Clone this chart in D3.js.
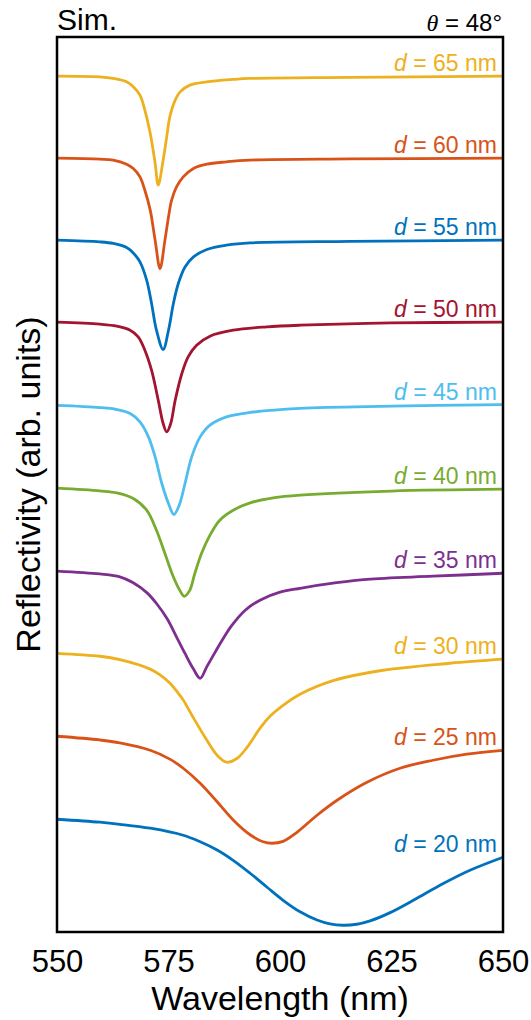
<!DOCTYPE html>
<html><head><meta charset="utf-8">
<script src="https://cdn.jsdelivr.net/npm/d3@7"></script>
<style>body{margin:0;background:#fff} svg{display:block}</style>
</head><body>
<svg id="c" width="531" height="1020"></svg>
<script>
const thicknesses = [20,25,30,35,40,45,50,55,60,65];
const offsets = [0,1,2,3,4,5,6,7,8,9];
const colors = ["#0072BD","#D95319","#EDB120","#7E2F8E","#77AC30","#4DBEEE","#A2142F","#0072BD","#D95319","#EDB120"];
const xTicks = [550,575,600,625,650];

const wl20 = [550,559.6,564.1,570.9,578.3,582.1,585.9,589.5,593.3,597.1,600.7,604.5,608.3,611.2,614.1,617.2,620.2,624.7,630.7,636.5,642.6,650];
const r20  = [1.318,1.282,1.257,1.209,1.124,1.045,0.945,0.82,0.663,0.493,0.335,0.195,0.095,0.048,0.032,0.044,0.085,0.185,0.359,0.535,0.699,0.857];
const wl25 = [550,559.6,564.1,570.9,575.4,578.3,582.1,585.9,589.5,593.3,596.2,598.2,600.7,603.8,608.3,612.8,619.5,626.9,634.3,641.9,650];
const r25  = [1.325,1.28,1.245,1.155,1.045,0.937,0.755,0.53,0.31,0.13,0.045,0.027,0.05,0.16,0.367,0.549,0.767,0.937,1.034,1.107,1.155];
const wl30 = [550,559.6,564.1,570.9,573.1,575.4,577.0,578.3,580.5,583.6,585.9,588.1,590.4,592.6,595.5,597.8,600.7,604.5,611.9,623.1,638.1,650];
const r30  = [1.332,1.296,1.255,1.14,1.07,0.965,0.86,0.765,0.556,0.277,0.095,0.01,0.058,0.19,0.42,0.57,0.70,0.835,1.0,1.126,1.211,1.26];
const wl35 = [550,559.6,564.1,567.0,570.2,572.4,574.7,576.9,578.7,580.5,582.1,583.6,585.4,587.2,589.2,592.2,595.5,600.0,604.5,611.9,619.5,634.3,650];
const r35  = [1.33,1.295,1.26,1.19,1.065,0.93,0.75,0.52,0.33,0.15,0.029,0.17,0.34,0.505,0.67,0.855,0.976,1.073,1.121,1.182,1.23,1.267,1.303];
const wl40 = [550,559.6,563.4,567.1,570.1,572.3,574.2,576.1,577.6,578.5,579.7,580.9,582.4,584.3,586.5,589.5,593.3,598.5,604.5,625,650];
const r40  = [1.335,1.302,1.278,1.21,1.068,0.825,0.542,0.258,0.089,0.024,0.089,0.30,0.542,0.765,0.947,1.068,1.157,1.217,1.25,1.30,1.323];
const wl45 = [550,559.6,563.4,566.4,568.6,570.5,572.0,573.5,575.0,576.2,577.4,578.7,580.2,582.1,584.3,588.0,593.3,604.5,625,650];
const r45  = [1.34,1.314,1.29,1.241,1.14,0.958,0.715,0.392,0.149,0.016,0.129,0.392,0.715,0.958,1.10,1.20,1.254,1.304,1.33,1.35];
const wl50 = [550,559.6,563.4,566.4,568.2,569.7,571.2,572.7,573.8,574.6,575.5,576.5,578.0,579.4,581.3,584.3,589.5,597.0,604.5,625,650];
const r50  = [1.35,1.325,1.301,1.252,1.171,1.01,0.767,0.403,0.12,0.018,0.12,0.403,0.727,0.928,1.07,1.18,1.252,1.293,1.313,1.34,1.35];
const wl55 = [550,559.6,562.6,565.6,567.1,568.6,570.1,571.2,572.3,573.8,575.0,576.1,577.2,578.7,580.6,583.6,588.0,593.3,615.7,650];
const r55  = [1.345,1.324,1.305,1.256,1.19,1.081,0.859,0.576,0.252,0.018,0.252,0.576,0.819,1.02,1.142,1.232,1.284,1.312,1.33,1.345];
const wl60 = [550,559.6,562.6,565.6,567.1,568.6,569.7,570.9,572.0,573.1,574.2,575.0,575.7,576.8,578.3,580.6,583.6,588.0,593.3,615.7,650];
const r60  = [1.34,1.328,1.316,1.267,1.215,1.113,0.951,0.709,0.345,0.0,0.345,0.627,0.83,0.99,1.113,1.215,1.267,1.295,1.316,1.33,1.34];
const wl65 = [550,559.6,562.6,565.6,567.1,568.6,569.7,570.9,572.0,572.7,573.8,574.6,575.3,576.5,577.6,579.8,583.6,589.5,593.3,615.7,650];
const r65  = [1.335,1.326,1.307,1.266,1.205,1.104,0.922,0.643,0.279,0.012,0.316,0.598,0.841,1.044,1.144,1.226,1.266,1.295,1.307,1.32,1.335];

const wls = [wl20,wl25,wl30,wl35,wl40,wl45,wl50,wl55,wl60,wl65];
const rs  = [r20,r25,r30,r35,r40,r45,r50,r55,r60,r65];

const FONT = "'Liberation Sans', Arial, sans-serif";
const L = 57, R = 503, T = 37, B = 932;
const svg = d3.select("#c");
const x = d3.scaleLinear().domain([550,650]).range([L,R]);
const y = d3.scaleLinear().domain([-0.05,10.81]).range([B,T]);

const line = d3.line().x(d=>x(d[0])).y(d=>y(d[1])).curve(d3.curveCatmullRom.alpha(0.5));

const series = thicknesses.map((t,i)=>({
  t, color: colors[i],
  pts: wls[i].map((w,j)=>[w, rs[i][j]+offsets[i]])
}));

svg.append("g").selectAll("path").data(series).join("path")
  .attr("d", d=>line(d.pts))
  .attr("fill","none").attr("stroke", d=>d.color)
  .attr("stroke-width",2.8).attr("stroke-linejoin","round");

// labels
const lab = svg.append("g").selectAll("text").data(series).join("text")
  .attr("x", 497)
  .attr("y", d=>y(d.pts[d.pts.length-1][1]) - 5)
  .attr("text-anchor","end")
  .attr("font-family",FONT).attr("font-size",23)
  .attr("fill", d=>d.color);
lab.append("tspan").attr("font-style","italic").text("d");
lab.append("tspan").text(d=>" = " + d.t + " nm");

// frame
svg.append("rect").attr("x",L).attr("y",T).attr("width",R-L).attr("height",B-T)
  .attr("fill","none").attr("stroke","#000").attr("stroke-width",2.5);

// x axis
const ax = svg.append("g").attr("transform",`translate(0,${B})`)
  .call(d3.axisBottom(x).tickValues(xTicks).tickSize(0).tickPadding(18).tickFormat(d3.format("d")));
ax.select(".domain").remove();
ax.selectAll("text").attr("font-family",FONT).attr("font-size",31).attr("fill","#000");

svg.append("text").attr("x",(L+R)/2).attr("y",1010).attr("text-anchor","middle")
  .attr("font-family",FONT).attr("font-size",34).text("Wavelength (nm)");

svg.append("text").attr("transform",`translate(40,${(T+B)/2}) rotate(-90)`)
  .attr("text-anchor","middle").attr("font-family",FONT).attr("font-size",34)
  .text("Reflectivity (arb. units)");

svg.append("text").attr("x",57).attr("y",30).attr("font-family",FONT).attr("font-size",30).text("Sim.");

const th = svg.append("text").attr("x",502).attr("y",31).attr("text-anchor","end")
  .attr("font-family",FONT).attr("font-size",24);
th.append("tspan").attr("font-family","'Liberation Serif', serif").attr("font-style","italic").text("θ");
th.append("tspan").text(" = 48°");
</script>
</body></html>
